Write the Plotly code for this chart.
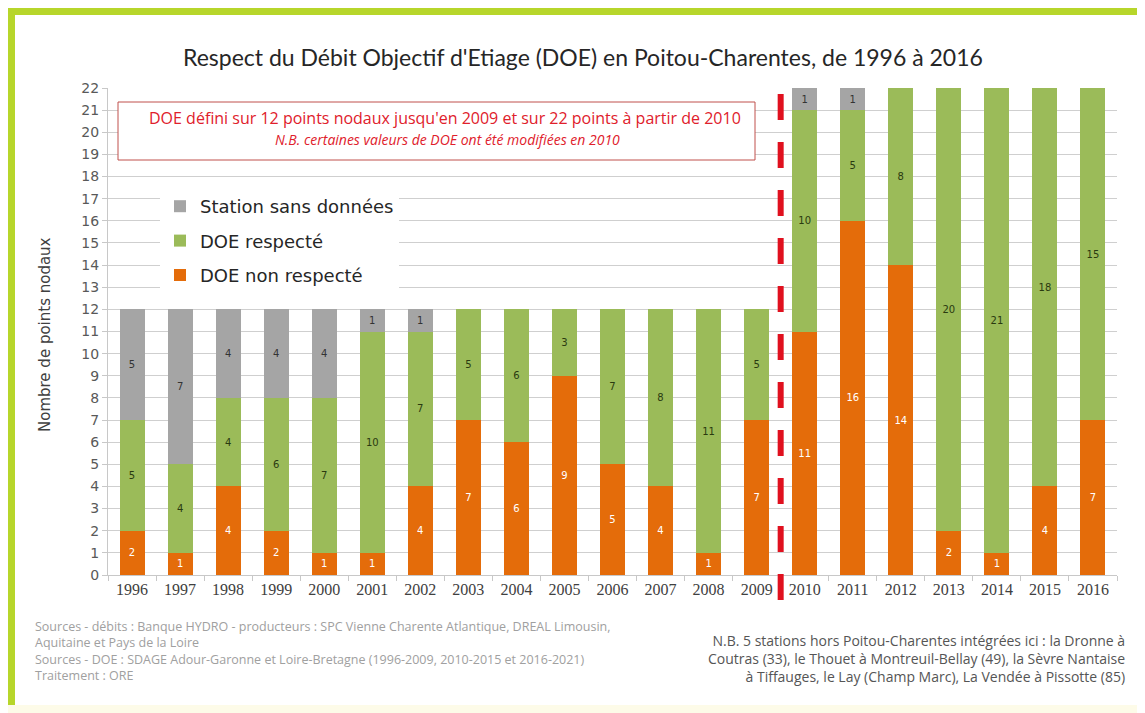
import plotly.graph_objects as go

years = [str(y) for y in range(1996, 2017)]
non_respecte = [2, 1, 4, 2, 1, 1, 4, 7, 6, 9, 5, 4, 1, 7, 11, 16, 14, 2, 1, 4, 7]
respecte = [5, 4, 4, 6, 7, 10, 7, 5, 6, 3, 7, 8, 11, 5, 10, 5, 8, 20, 21, 18, 15]
sans_donnees = [5, 7, 4, 4, 4, 1, 1, 0, 0, 0, 0, 0, 0, 0, 1, 1, 0, 0, 0, 0, 0]
y_ticks = list(range(0, 23))

ORANGE = "#E46C0A"
GREEN = "#9BBB59"
GRAY = "#A5A5A5"

OFF = 8  # page body margin
W, H = 1145 - OFF, 713 - OFF
L, R, T, B = 108 - OFF, 28, 88 - OFF, 138
PW, PH = W - L - R, H - T - B


def px(x):
    return (x - OFF - L) / PW


def py(y):
    return (H - B - (y - OFF)) / PH


def lab(vals):
    return [str(v) if v else "" for v in vals]


fig = go.Figure()
series = [
    ("DOE non respecté", non_respecte, ORANGE, "white", 3),
    ("DOE respecté", respecte, GREEN, "#2a3a10", 2),
    ("Station sans données", sans_donnees, GRAY, "#333333", 1),
]
for name, vals, col, tcol, rank in series:
    fig.add_trace(go.Bar(
        x=years, y=vals, name=name, marker=dict(color=col, line=dict(width=0)),
        text=lab(vals), textposition="inside", insidetextanchor="middle",
        textangle=0, constraintext="none",
        textfont=dict(size=10, color=tcol, family="DejaVu Sans"),
        legendgroup="g%d" % rank, legendrank=rank, hoverinfo="x+y+name",
    ))

shapes = [
    # green frame
    dict(type="rect", xref="paper", yref="paper", x0=px(8), x1=px(1150), y0=py(15), y1=py(8),
         fillcolor="#B7D62B", line=dict(width=0), layer="above"),
    dict(type="rect", xref="paper", yref="paper", x0=px(8), x1=px(15), y0=py(705), y1=py(8),
         fillcolor="#B7D62B", line=dict(width=0), layer="above"),
    dict(type="rect", xref="paper", yref="paper", x0=px(8), x1=px(1150), y0=py(716), y1=py(705),
         fillcolor="#FDFBE8", line=dict(width=0), layer="below"),
    # note box
    dict(type="rect", xref="paper", yref="paper", x0=px(118), x1=px(755), y0=py(160), y1=py(102),
         fillcolor="white", line=dict(color="#C0504D", width=1), layer="above"),
    # red dashed separator
    dict(type="line", xref="x", yref="paper", x0=13.5, x1=13.5, y0=py(600), y1=py(87),
         line=dict(color="#E0101E", width=6, dash="26px,22px"), layer="above"),
]

annotations = [
    dict(text="Respect du Débit Objectif d'Etiage (DOE) en Poitou-Charentes, de 1996 à 2016",
         x=px(583), y=py(57), xref="paper", yref="paper", showarrow=False,
         font=dict(family="Lato", size=23, color="#262626"), xanchor="center", yanchor="middle"),
    dict(text="DOE défini sur 12 points nodaux jusqu'en 2009 et sur 22 points à partir de 2010",
         x=px(445), y=py(118), xref="paper", yref="paper", showarrow=False,
         font=dict(family="Open Sans", size=16, color="#E0202B"), xanchor="center", yanchor="middle"),
    dict(text="<i>N.B. certaines valeurs de DOE ont été modifiées en 2010</i>",
         x=px(447), y=py(139), xref="paper", yref="paper", showarrow=False,
         font=dict(family="Open Sans", size=14, color="#E0202B"), xanchor="center", yanchor="middle"),
    dict(text="Nombre de points nodaux", x=px(45), y=py(335), xref="paper", yref="paper",
         showarrow=False, textangle=-90,
         font=dict(family="DejaVu Sans", size=15, color="#404040"), xanchor="center", yanchor="middle"),
]

left_lines = [
    "Sources - débits : Banque HYDRO - producteurs : SPC Vienne Charente Atlantique, DREAL Limousin,",
    "Aquitaine et Pays de la Loire",
    "Sources - DOE : SDAGE Adour-Garonne et Loire-Bretagne (1996-2009, 2010-2015 et 2016-2021)",
    "Traitement : ORE",
]
annotations.append(dict(text="<br>".join(left_lines), x=px(33), y=py(651), xref="paper", yref="paper",
                        showarrow=False, xanchor="left", yanchor="middle", align="left",
                        font=dict(family="Open Sans", size=12.5, color="#A0A0A0")))

right_lines = [
    "N.B. 5 stations hors Poitou-Charentes intégrées ici : la Dronne à",
    "Coutras (33), le Thouet à Montreuil-Bellay (49), la Sèvre Nantaise",
    "à Tiffauges, le Lay (Champ Marc), La Vendée à Pissotte (85)",
]
annotations.append(dict(text="<br>".join(right_lines), x=px(1127), y=py(658), xref="paper", yref="paper",
                        showarrow=False, xanchor="right", yanchor="middle", align="right",
                        font=dict(family="Open Sans", size=14, color="#555555")))

fig.update_layout(
    width=W, height=H,
    margin=dict(l=L, r=R, t=T, b=B, autoexpand=False),
    paper_bgcolor="white", plot_bgcolor="white",
    barmode="stack", bargap=0.48,
    showlegend=True,
    legend=dict(x=px(160), y=py(188), xanchor="left", yanchor="top",
                bgcolor="white", traceorder="grouped", tracegroupgap=8,
                font=dict(family="DejaVu Sans", size=18, color="#262626"),
                itemclick=False),
    shapes=shapes, annotations=annotations,
    xaxis=dict(type="category", tickson="boundaries", ticks="outside", ticklen=5,
               tickcolor="#C8C8C8", showline=True, linecolor="#C8C8C8", linewidth=1,
               showgrid=False, tickfont=dict(family="Liberation Serif", size=16, color="#404040")),
    yaxis=dict(range=[0, 22], tickvals=y_ticks, ticks="outside", ticklen=5, tickcolor="#C8C8C8",
               showline=True, linecolor="#C8C8C8", gridcolor="#CFCFCF", gridwidth=1,
               zeroline=False, tickfont=dict(family="DejaVu Sans", size=14, color="#595959")),
)

fig.write_html("out.html")
